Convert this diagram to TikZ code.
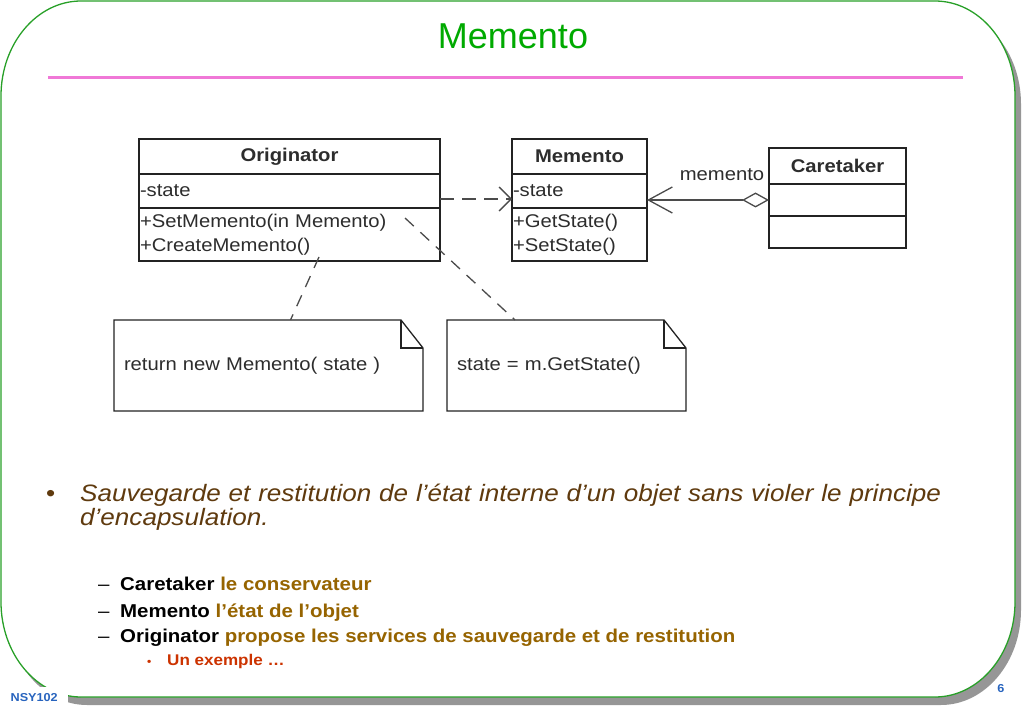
\documentclass[tikz,border=0pt]{standalone}
\usepackage{fontspec}
\setmainfont{Liberation Sans}[FakeStretch=1.1]
\newfontfamily\titlefont{Liberation Sans}
\usetikzlibrary{positioning, arrows.meta, calc}
\definecolor{umltext}{RGB}{45,45,45}
\definecolor{umlline}{RGB}{35,35,35}
\definecolor{linkgray}{RGB}{75,75,75}
\definecolor{framegreen}{RGB}{40,160,40}
\definecolor{shadowgray}{RGB}{150,150,150}
\definecolor{rulepink}{RGB}{240,120,215}
\definecolor{titlegreen}{RGB}{0,170,0}
\definecolor{bodybrown}{RGB}{95,58,14}
\definecolor{subgold}{RGB}{150,100,0}
\definecolor{exred}{RGB}{204,51,0}
\definecolor{footblue}{RGB}{40,100,190}
\newcommand{\umlfont}{\fontsize{18.4}{24.5}\selectfont}
\tikzset{
	classhead/.style={draw=umlline, line width=1.4pt, inner sep=1pt, outer sep=0pt, minimum height=#1, align=center, font=\umlfont\bfseries, text=umltext},
	classpart/.style={draw=umlline, line width=1.4pt, inner sep=1pt, outer sep=0pt, minimum height=#1, align=left, font=\umlfont, text=umltext},
	notebox/.style={inner sep=10pt, outer sep=0pt, minimum height=91pt, align=left, font=\umlfont, text=umltext},
	noteline/.style={draw=umlline, line width=1.3pt},
	deplink/.style={draw=linkgray, line width=1.3pt, dash pattern=on 14pt off 8pt, -{Straight Barb[length=12pt, width=24pt]}},
	aggrlink/.style={draw=linkgray, line width=1.3pt, {Diamond[open, length=27pt, width=15pt]}-{Straight Barb[length=24pt, width=26pt]}},
	notelink/.style={draw=linkgray, line width=1.3pt, dash pattern=on 12pt off 9pt},
	subitem/.style={anchor=base west, inner sep=0pt, font=\fontsize{18.6}{20}\selectfont},
}

\begin{document}
	\begin{tikzpicture}[x=1pt, y=-1pt]
		\useasboundingbox (0,0) rectangle (1023,708);
		\fill[shadowgray, shift={(6,8)}] (81,1) -- (935,1) .. controls (979,1) and (1015,43.5) .. (1015,96) -- (1015,602) .. controls (1015,654.5) and (979,697) .. (935,697) -- (81,697) .. controls (37,697) and (1,654.5) .. (1,602) -- (1,96) .. controls (1,43.5) and (37,1) .. (81,1) -- cycle;
		\draw[framegreen, fill=white, line width=1.3pt] (81,1) -- (935,1) .. controls (979,1) and (1015,43.5) .. (1015,96) -- (1015,602) .. controls (1015,654.5) and (979,697) .. (935,697) -- (81,697) .. controls (37,697) and (1,654.5) .. (1,602) -- (1,96) .. controls (1,43.5) and (37,1) .. (81,1) -- cycle;
		\node[fill=white, anchor=north west, minimum width=68pt, minimum height=21pt, inner sep=0pt, font=\fontsize{11.5}{12}\selectfont\bfseries, text=footblue] (course) at (0,687) {NSY102};
		\node[font=\fontsize{11.5}{12}\selectfont\bfseries, text=footblue] (pagenum) at (1001,689) {6};
		\node[font=\titlefont\fontsize{36}{40}\selectfont, text=titlegreen] (title) at (513,36) {Memento};
		\draw[rulepink, line width=3pt] (48,78) -- (963,78);

		\node[classhead=35pt, text width=299pt, anchor=north west] (orighead) at (139,139) {Originator};
		\node[classpart=34pt, text width=299pt, below right=0pt and 0pt of orighead.south west] (origattr) {-state};
		\node[classpart=53pt, text width=299pt, below right=0pt and 0pt of origattr.south west] (origops) {+SetMemento(in Memento)\\+CreateMemento()};
		\node[classhead=35pt, text width=133pt, anchor=north west] (memhead) at (512,139) {Memento};
		\node[classpart=34pt, text width=133pt, below right=0pt and 0pt of memhead.south west] (memattr) {-state};
		\node[classpart=53pt, text width=133pt, below right=0pt and 0pt of memattr.south west] (memops) {+GetState()\\+SetState()};
		\node[classhead=36pt, text width=135pt, anchor=north west] (carehead) at (769,148) {Caretaker};
		\node[classpart=32pt, text width=135pt, below right=0pt and 0pt of carehead.south west] (careattr) {};
		\node[classpart=32pt, text width=135pt, below right=0pt and 0pt of careattr.south west] (careops) {};

		\draw[deplink] ([yshift=-8pt]origattr.east) -- ([yshift=-8pt]memattr.west);
		\draw[aggrlink] (careattr.west) -- (careattr.west -| memattr.east);
		\node[font=\umlfont, text=umltext, inner sep=0pt] (role) at (722,175) {memento};

		\node[notebox, text width=289pt] (note1) at (268.5,365.5) {return new Memento( state )};
		\node[notebox, text width=219pt] (note2) at (566.5,365.5) {state = m.GetState()};
		\draw[noteline] (note1.north west) -- ([xshift=-22pt]note1.north east) -- ([yshift=-28pt]note1.north east) -- (note1.south east) -- (note1.south west) -- cycle;
		\draw[noteline] ([xshift=-22pt]note1.north east) |- ([yshift=-28pt]note1.north east);
		\draw[noteline] (note2.north west) -- ([xshift=-22pt]note2.north east) -- ([yshift=-28pt]note2.north east) -- (note2.south east) -- (note2.south west) -- cycle;
		\draw[noteline] ([xshift=-22pt]note2.north east) |- ([yshift=-28pt]note2.north east);
		\coordinate (creatept) at (319,257);
		\coordinate (setpt) at (405,218);
		\draw[notelink] (creatept) -- ([xshift=22pt]note1.north);
		\draw[notelink] (setpt) -- ([xshift=-51.5pt]note2.north);

		\node[anchor=base west, inner sep=0pt, text=bodybrown, font=\fontsize{23.7}{24}\selectfont] (bullet) at (46,501) {•};
		\node[anchor=base west, inner sep=0pt, text width=900pt, align=left, text=bodybrown, font=\itshape\fontsize{23.7}{24}\selectfont] (intro) at (80,501) {Sauvegarde et restitution de l’état interne d’un objet sans violer le principe\\d’encapsulation.};
		\node[subitem] (caretaker) at (98,590) {\makebox[22pt][l]{–}\textbf{Caretaker} \textcolor{subgold}{\textbf{le conservateur}}};
		\node[subitem] (memento) at (98,617) {\makebox[22pt][l]{–}\textbf{Memento} \textcolor{subgold}{\textbf{l’état de l’objet}}};
		\node[subitem] (originator) at (98,642) {\makebox[22pt][l]{–}\textbf{Originator} \textcolor{subgold}{\textbf{propose les services de sauvegarde et de restitution}}};
		\node[anchor=base west, inner sep=0pt, text=exred, font=\fontsize{15.5}{17}\selectfont\bfseries] (example) at (147,665) {\makebox[20pt][l]{\fontsize{11}{12}\selectfont•}Un exemple …};
	\end{tikzpicture}
\end{document}
